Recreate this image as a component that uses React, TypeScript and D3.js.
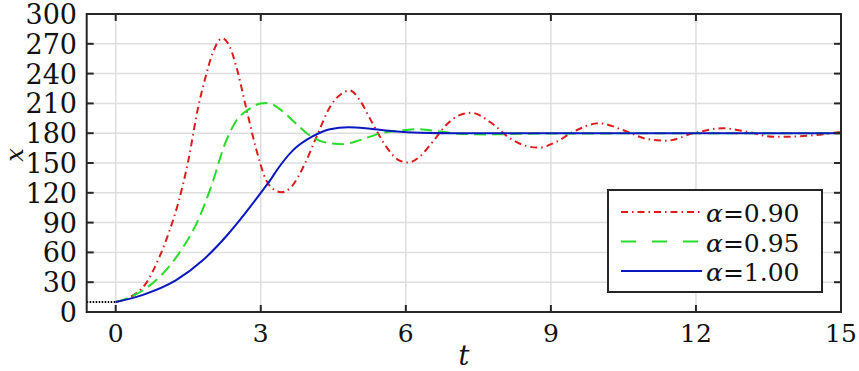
import React, { useRef, useEffect } from "react";
import * as d3 from "d3";

// time samples and values
const tRed = [0, 0.3, 0.6, 0.9, 1.1, 1.3, 1.5, 1.7, 1.85, 2.0, 2.2, 2.35, 2.5, 2.7, 2.9, 3.1, 3.25, 3.43, 3.65, 3.9, 4.15, 4.45, 4.65, 4.84, 5.05, 5.3, 5.6, 5.85, 6.05, 6.3, 6.55, 6.85, 7.1, 7.36, 7.75, 8.15, 8.5, 8.75, 9.1, 9.45, 10.0, 10.5, 11.0, 11.4, 11.95, 12.55, 13.05, 13.6, 13.95, 14.45, 15];
const xRed = [10, 15, 27, 55, 80, 111, 152, 205, 235, 260, 275.5, 268, 246, 205, 165, 134, 124, 120.5, 127, 148, 176, 208, 219, 223, 213, 191, 166, 153, 150.5, 157, 171, 189, 198, 200.5, 191, 175, 167, 165.5, 171, 181, 190, 183, 174, 172.5, 180, 185, 181.5, 176.5, 176.5, 178, 181.5];

const tGreen = [0, 0.3, 0.6, 1.0, 1.35, 1.7, 2.0, 2.25, 2.5, 2.75, 3.0, 3.15, 3.4, 3.7, 3.95, 4.35, 4.7, 5.05, 5.45, 5.95, 6.2, 6.75, 7.2, 7.7, 8.5, 10, 15];
const xGreen = [10, 15, 23, 40, 62, 92, 130, 168, 193, 204, 210, 210.5, 204, 191, 180, 170.5, 169, 173, 179.5, 183, 184, 181.5, 179.2, 178.8, 179.5, 179.8, 180];

const tBlue = [0, 0.55, 1.25, 1.8, 2.3, 2.8, 3.0, 3.2, 3.35, 3.67, 4.08, 4.43, 4.81, 5.26, 5.75, 6.3, 7, 15];
const xBlue = [10, 17, 32, 52, 77, 107, 120, 133, 144, 163, 177, 184, 186, 184.5, 182, 180.5, 180, 180];

const history = [-0.6, 0]; // initial condition x = 10 for t <= 0
const historyValue = 10;

const xTicks = [0, 3, 6, 9, 12, 15];
const yTicks = [0, 30, 60, 90, 120, 150, 180, 210, 240, 270, 300];
const legendLabels = ["0.90", "0.95", "1.00"];

const App = () => {
  const svgRef = useRef<SVGSVGElement>(null);

  useEffect(() => {
    const svg = d3.select(svgRef.current);
    svg.selectAll("*").remove();

    const left = 86.7, right = 841, top = 14, bottom = 312;
    const x = d3.scaleLinear().domain([-0.6, 15]).range([left, right]);
    const y = d3.scaleLinear().domain([0, 300]).range([bottom, top]);
    const font = "DejaVu Serif";

    // grid
    const grid = svg.append("g").attr("stroke", "#dedede").attr("stroke-width", 1.5);
    grid.selectAll("line.v").data(xTicks).join("line")
      .attr("x1", (d) => x(d)).attr("x2", (d) => x(d)).attr("y1", top).attr("y2", bottom);
    grid.selectAll("line.h").data(yTicks).join("line").attr("class", "h")
      .attr("x1", left).attr("x2", right).attr("y1", (d) => y(d)).attr("y2", (d) => y(d));

    // curves
    const line = d3.line<[number, number]>()
      .x((d) => x(d[0])).y((d) => y(d[1]))
      .curve(d3.curveMonotoneX);

    const series = [
      { t: tRed, v: xRed, color: "#dc1c1c", dash: "7,4,1.5,4", legendDash: "7,4,1.5,4" },
      { t: tGreen, v: xGreen, color: "#28dc28", dash: "12,6", legendDash: "15,16" },
      { t: tBlue, v: xBlue, color: "#0a18c0", dash: null, legendDash: null },
    ];

    series.forEach((s) => {
      const pts = s.t.map((t, i) => [t, s.v[i]] as [number, number]);
      svg.append("path")
        .attr("d", line(pts))
        .attr("fill", "none")
        .attr("stroke", s.color)
        .attr("stroke-width", 2)
        .attr("stroke-dasharray", s.dash);
    });

    svg.append("path")
      .attr("d", line(history.map((t) => [t, historyValue] as [number, number])))
      .attr("fill", "none")
      .attr("stroke", "#000")
      .attr("stroke-width", 2)
      .attr("stroke-dasharray", "1.5,1.5");

    // frame and inward ticks
    const axis = svg.append("g").attr("stroke", "#262626").attr("stroke-width", 2);
    axis.append("rect")
      .attr("x", left).attr("y", top).attr("width", right - left).attr("height", bottom - top)
      .attr("fill", "none");
    const tl = 7;
    xTicks.forEach((d) => {
      axis.append("line").attr("x1", x(d)).attr("x2", x(d)).attr("y1", bottom).attr("y2", bottom - tl);
      axis.append("line").attr("x1", x(d)).attr("x2", x(d)).attr("y1", top).attr("y2", top + tl);
    });
    yTicks.forEach((d) => {
      axis.append("line").attr("x1", left).attr("x2", left + tl).attr("y1", y(d)).attr("y2", y(d));
      axis.append("line").attr("x1", right).attr("x2", right - tl).attr("y1", y(d)).attr("y2", y(d));
    });

    // tick labels
    svg.append("g").selectAll("text").data(yTicks).join("text")
      .attr("x", 77).attr("y", (d) => y(d) + 10)
      .attr("text-anchor", "end")
      .attr("font-family", font).attr("font-size", 27).attr("fill", "#111")
      .text((d) => d);

    svg.append("g").selectAll("text").data(xTicks).join("text")
      .attr("x", (d) => x(d)).attr("y", 342)
      .attr("text-anchor", "middle")
      .attr("font-family", font).attr("font-size", 25).attr("fill", "#111")
      .text((d) => d);

    // axis titles
    svg.append("text")
      .attr("x", (left + right) / 2).attr("y", 365)
      .attr("text-anchor", "middle")
      .attr("font-family", font).attr("font-size", 27).attr("font-style", "italic")
      .attr("fill", "#111").text("t");
    svg.append("text")
      .attr("transform", `translate(23,${(top + bottom) / 2 - 8}) rotate(-90)`)
      .attr("text-anchor", "middle")
      .attr("font-family", font).attr("font-size", 24).attr("font-style", "italic")
      .attr("fill", "#111").text("x");

    // legend
    const lg = svg.append("g");
    lg.append("rect")
      .attr("x", 608).attr("y", 190).attr("width", 214).attr("height", 102)
      .attr("fill", "#fff").attr("stroke", "#262626").attr("stroke-width", 2);
    series.forEach((s, i) => {
      const cy = 212 + i * 29.5;
      lg.append("line")
        .attr("x1", 621).attr("x2", 702).attr("y1", cy).attr("y2", cy)
        .attr("stroke", s.color).attr("stroke-width", 2)
        .attr("stroke-dasharray", s.legendDash);
      const txt = lg.append("text")
        .attr("x", 706).attr("y", cy + 10)
        .attr("font-family", font).attr("font-size", 25).attr("fill", "#111");
      txt.append("tspan").attr("font-style", "italic").text("α");
      txt.append("tspan").text("=" + legendLabels[i]);
    });
  }, []);

  return (
    <svg
      ref={svgRef}
      width={859}
      height={371}
      style={{ position: "absolute", left: 0, top: 0, background: "#fff" }}
    ></svg>
  );
};

export default App;
